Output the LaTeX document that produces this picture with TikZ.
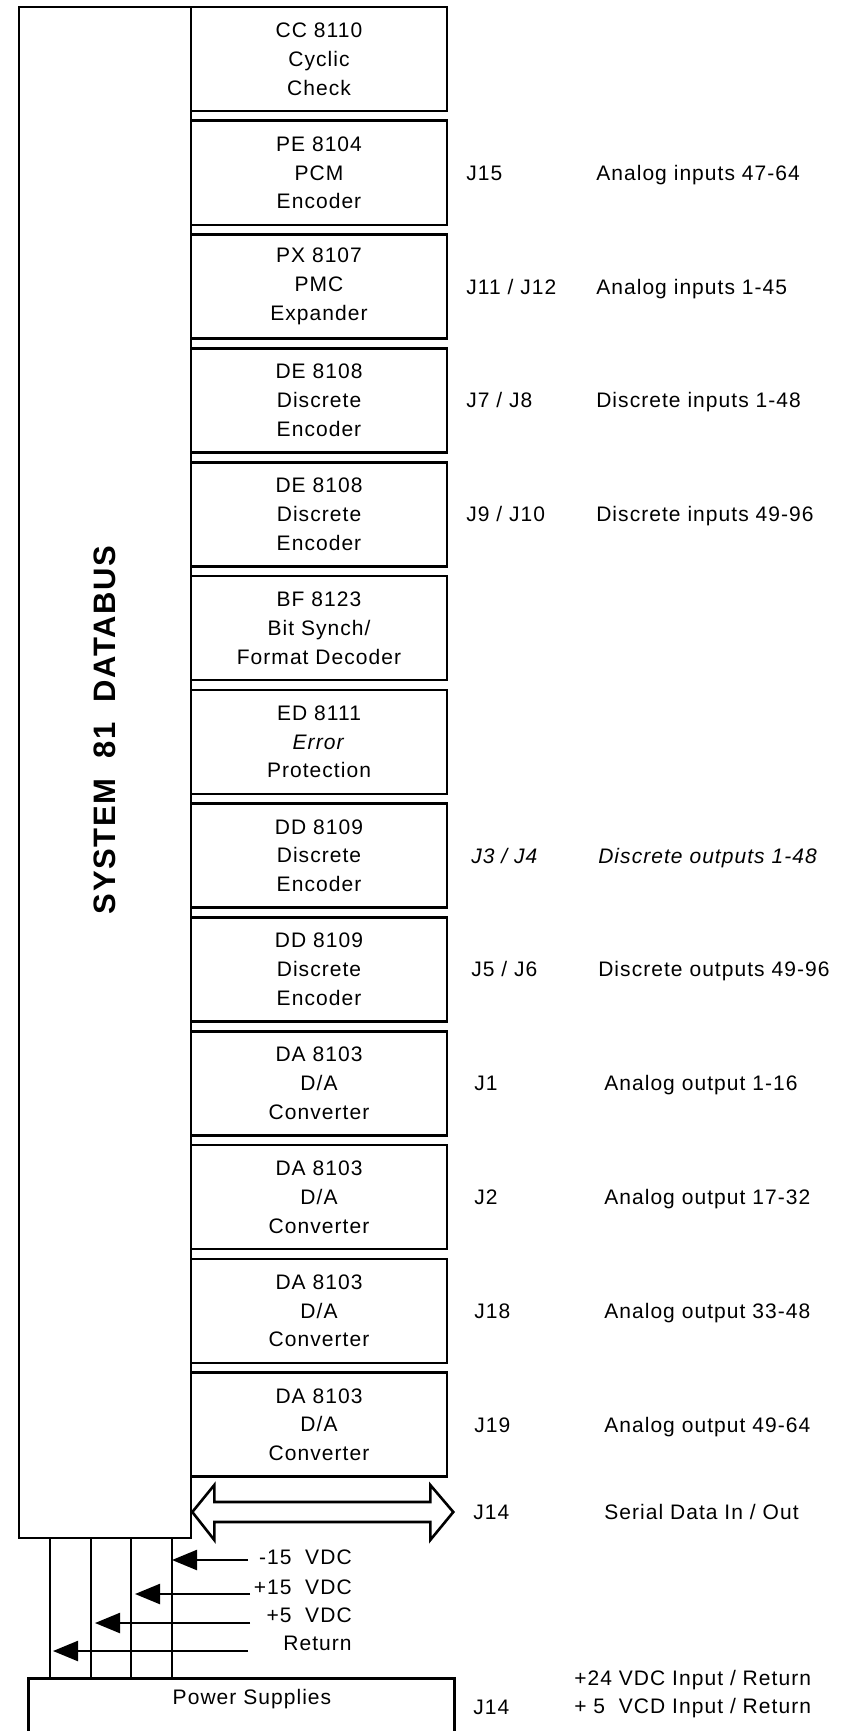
\documentclass[tikz,border=0pt]{standalone}
\usepackage{fontspec}
\setmainfont{Liberation Sans}[LetterSpace=5]
\usetikzlibrary{arrows.meta}
\newcommand{\boxfont}{\fontsize{21}{28.8}\selectfont}
\newcommand{\busfont}{\fontsize{31}{31}\selectfont\bfseries}
\begin{document}
\begin{tikzpicture}[x=1pt,y=-1pt,line width=2.6pt,
  modbox/.style={draw,rectangle,minimum width=256pt,minimum height=104pt,inner sep=0pt,align=center,font=\boxfont},
  lab/.style={anchor=base west,inner sep=0pt,font=\boxfont},
  rlab/.style={anchor=base east,inner sep=0pt,font=\boxfont},
  pwr/.style={-{Triangle[length=25pt,width=20pt]},line width=2.3pt},
  wire/.style={line width=2.3pt}]
\useasboundingbox (0,0) rectangle (854,1731);

% data bus
\node[draw,minimum width=172pt,minimum height=1531pt,inner sep=0pt] (bus) at (105,772.5) {};
\node[rotate=90,font=\busfont,inner sep=0pt] (buslabel) at (105,730) {SYSTEM\ \ 81\ \ DATABUS};

% modules
\node[modbox] (m1)  at (319,59)     {CC 8110\\Cyclic\\Check};
\node[modbox] (m2)  at (319,172.8)  {PE 8104\\PCM\\Encoder};
\node[modbox] (m3)  at (319,286.6)  {PX 8107\\PMC\\Expander};
\node[modbox] (m4)  at (319,400.4)  {DE 8108\\Discrete\\Encoder};
\node[modbox] (m5)  at (319,514.2)  {DE 8108\\Discrete\\Encoder};
\node[modbox] (m6)  at (319,628)    {BF 8123\\Bit Synch/\\Format Decoder};
\node[modbox] (m7)  at (319,741.8)  {ED 8111\\\textit{Error}\\Protection};
\node[modbox] (m8)  at (319,855.6)  {DD 8109\\Discrete\\Encoder};
\node[modbox] (m9)  at (319,969.4)  {DD 8109\\Discrete\\Encoder};
\node[modbox] (m10) at (319,1083.2) {DA 8103\\D/A\\Converter};
\node[modbox] (m11) at (319,1197)   {DA 8103\\D/A\\Converter};
\node[modbox] (m12) at (319,1310.8) {DA 8103\\D/A\\Converter};
\node[modbox] (m13) at (319,1424.6) {DA 8103\\D/A\\Converter};

% connector labels
\node[lab] (j2)  at (465,180.3)  {J15};
\node[lab] (d2)  at (595,180.3)  {Analog inputs 47-64};
\node[lab] (j3)  at (465,294.1)  {J11 / J12};
\node[lab] (d3)  at (595,294.1)  {Analog inputs 1-45};
\node[lab] (j4)  at (465,407.9)  {J7 / J8};
\node[lab] (d4)  at (595,407.9)  {Discrete inputs 1-48};
\node[lab] (j5)  at (465,521.7)  {J9 / J10};
\node[lab] (d5)  at (595,521.7)  {Discrete inputs 49-96};
\node[lab] (j8)  at (470,863.1)  {\textit{J3 / J4}};
\node[lab] (d8)  at (597,863.1)  {\textit{Discrete outputs 1-48}};
\node[lab] (j9)  at (470,976.9)  {J5 / J6};
\node[lab] (d9)  at (597,976.9)  {Discrete outputs 49-96};
\node[lab] (j10) at (473,1090.7) {J1};
\node[lab] (d10) at (603,1090.7) {Analog output 1-16};
\node[lab] (j11) at (473,1204.5) {J2};
\node[lab] (d11) at (603,1204.5) {Analog output 17-32};
\node[lab] (j12) at (473,1318.3) {J18};
\node[lab] (d12) at (603,1318.3) {Analog output 33-48};
\node[lab] (j13) at (473,1432.1) {J19};
\node[lab] (d13) at (603,1432.1) {Analog output 49-64};

% serial data double arrow
\coordinate (sa) at (bus.east |- 0,1512);
\draw[line join=miter] (sa) -- ++(22,-27) -- ++(0,17) -- ++(216,0) -- ++(0,-17)
  -- ++(23,27) -- ++(-23,28) -- ++(0,-18) -- ++(-216,0) -- ++(0,18) -- cycle;
\node[lab] (j14a) at (472,1519.5) {J14};
\node[lab] (sd)   at (603,1519.5) {Serial Data In / Out};

% power supplies
\node[draw,minimum width=426pt,minimum height=90pt,inner sep=0pt,anchor=north west] (ps) at (27,1677) {};
\node[font=\boxfont,inner sep=0pt] (pslabel) at (252,1699) {Power Supplies};
\node[lab] (j14b) at (472,1714.5) {J14};
\node[lab] (pin1) at (573,1685) {+24 VDC Input / Return};
\node[lab] (pin2) at (573,1713.5) {+ 5\ \ VCD Input / Return};

% power rails
\coordinate (v1) at (50,1538);
\coordinate (v2) at (91,1538);
\coordinate (v3) at (131,1538);
\coordinate (v4) at (172,1538);
\foreach \v in {v1,v2,v3,v4} \draw[wire] (\v) -- (\v |- ps.north);

\coordinate (s1) at (248,1560);
\coordinate (s2) at (250,1594);
\coordinate (s3) at (250,1623);
\coordinate (s4) at (248,1651);
\draw[pwr] (s1) -- (s1 -| v4);
\draw[pwr] (s2) -- ([xshift=4pt]s2 -| v3);
\draw[pwr] (s3) -- ([xshift=4pt]s3 -| v2);
\draw[pwr] (s4) -- ([xshift=3pt]s4 -| v1);

\node[rlab] (p1) at (353,1564.5) {-15\ \ VDC};
\node[rlab] (p2) at (353,1594.5) {+15\ \ VDC};
\node[rlab] (p3) at (353,1622.5) {+5\ \ VDC};
\node[rlab] (p4) at (353,1650.5) {Return};
\end{tikzpicture}
\end{document}
